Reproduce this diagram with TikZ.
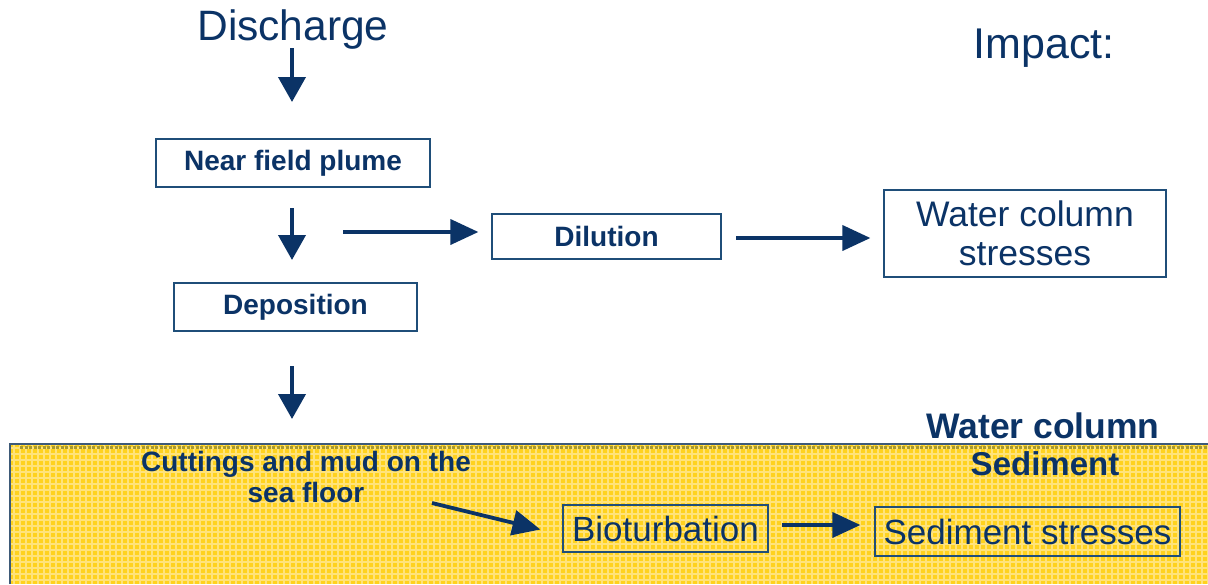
\documentclass[tikz,border=0pt]{standalone}
\usepackage{fontspec}
\setmainfont{Liberation Sans}
\usetikzlibrary{arrows.meta}
\definecolor{navy}{HTML}{0B3366}
\definecolor{boxline}{HTML}{1F4E79}
\definecolor{seabg}{HTML}{FFD21E}
\definecolor{seagrid}{HTML}{FFE37A}
\definecolor{seaedge}{HTML}{3E5A78}
\definecolor{olive}{HTML}{A99A2E}
\tikzset{
  x=1pt, y=-1pt,
  flowbox/.style={draw=boxline, line width=1.2pt, fill=white, inner sep=0pt, text=navy},
  seabox/.style={draw=boxline, line width=1.2pt, inner sep=0pt, text=navy},
  bigarrow/.style={draw=navy, line width=4pt, -{Triangle[length=25pt,width=27pt]}},
  midarrow/.style={draw=navy, line width=3.8pt, -{Triangle[length=28pt,width=25pt]}},
  boldlbl/.style={font=\bfseries\fontsize{28}{32}\selectfont, text=navy},
  plainlbl/.style={font=\fontsize{35}{40}\selectfont, text=navy},
}
\begin{document}
\begin{tikzpicture}
\useasboundingbox (0,0) rectangle (1208,584);
% sea floor region
\fill[seabg] (10,444) rectangle (1208,584);
\begin{scope}
\clip (10,444) rectangle (1208,584);
\foreach \i in {0,...,200} {\draw[seagrid, line width=1.6pt] ({14+6*\i},444) -- ({14+6*\i},584);}
\foreach \j in {0,...,23} {\draw[seagrid, line width=1.6pt] (10,{448+6*\j}) -- (1208,{448+6*\j});}
\end{scope}
\draw[olive, line width=3pt, dash pattern=on 3pt off 1.5pt] (20,447.5) -- (1208,447.5);
\draw[seaedge, line width=1.5pt] (10,584) -- (10,444) -- (1208,444);

% texts
\node[font=\fontsize{42.5}{48}\selectfont, text=navy] (discharge) at (293,30) {Discharge};
\node[font=\fontsize{43}{48}\selectfont, text=navy] (impact) at (1044,48) {Impact:};

% boxes
\node[flowbox, minimum width=274pt, minimum height=48pt, boldlbl] (near) at (293,163) {Near field plume};
\node[flowbox, minimum width=229pt, minimum height=45pt, boldlbl] (dil) at (606.5,236.5) {Dilution};
\node[flowbox, minimum width=282pt, minimum height=87pt, font=\fontsize{35.5}{39}\selectfont, align=center] (wcs) at (1025,233.5) {Water column\\stresses};
\node[flowbox, minimum width=243pt, minimum height=48pt, boldlbl] (dep) at (295.5,307) {Deposition};

\node[font=\bfseries\fontsize{35.5}{40}\selectfont, text=navy] (wc) at (1043,426) {Water column};
\node[font=\bfseries\fontsize{33}{38}\selectfont, text=navy] (sed) at (1045,464) {Sediment};
\node[font=\bfseries\fontsize{28}{31}\selectfont, text=navy, align=center] (cut) at (306,477) {Cuttings and mud on the\\sea floor};

\node[seabox, minimum width=205pt, minimum height=47pt, plainlbl] (bio) at (665.5,528.5) {Bioturbation};
\node[seabox, minimum width=305pt, minimum height=49pt, plainlbl] (ss) at (1027.5,531.5) {Sediment stresses};

% arrows
\coordinate (a1s) at (292,48); \coordinate (a1e) at (292,102);
\draw[bigarrow] (a1s) -- (a1e);
\coordinate (a2s) at (292,208); \coordinate (a2e) at (292,260);
\draw[bigarrow] (a2s) -- (a2e);
\coordinate (a3s) at (292,366); \coordinate (a3e) at (292,419);
\draw[bigarrow] (a3s) -- (a3e);
\coordinate (h1s) at (343,232);
\draw[midarrow] (h1s) -- ([xshift=-13pt]dil.west |- h1s);
\coordinate (h2s) at (736,238);
\draw[midarrow] (h2s) -- ([xshift=-13pt]wcs.west |- h2s);
\coordinate (c1s) at (432,503);
\draw[midarrow] (c1s) -- ([xshift=-22pt,yshift=-1pt]bio.west);
\coordinate (b1s) at (782,525);
\draw[midarrow] (b1s) -- ([xshift=-14pt]ss.west |- b1s);
\end{tikzpicture}
\end{document}
